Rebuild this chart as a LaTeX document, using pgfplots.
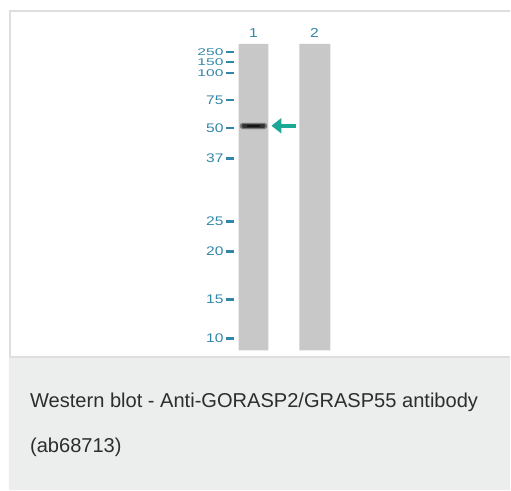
\documentclass[border=0pt]{standalone}
\usepackage{pgfplots}
\pgfplotsset{compat=1.18}
\usepackage{fontspec}
\setmainfont{Liberation Sans}
\usetikzlibrary{arrows.meta}

\definecolor{lanegray}{RGB}{200,200,200}
\definecolor{capbg}{RGB}{236,238,237}
\definecolor{frame}{RGB}{222,222,222}
\definecolor{mwblue}{RGB}{50,134,168}
\definecolor{arrowteal}{RGB}{28,168,150}
\definecolor{captext}{RGB}{45,45,45}

\pgfplotsset{
  ladder/.style={mwblue, only marks, mark=-, mark size=4pt, mark options={line width=2.5pt},
    nodes near coords, point meta=explicit symbolic},
}

\begin{document}
\begin{tikzpicture}
\begin{axis}[
    scale only axis, width=511pt, height=491pt,
    xmin=0, xmax=511, ymin=0, ymax=491,
    y dir=reverse, axis lines=none, clip=false,
  ]
  % keep the full page size
  \addplot[draw=none] coordinates {(0,0) (511,491)};

  % caption panel and frame
  \addplot[fill=capbg, draw=none] coordinates {(9,358) (511,358) (511,491) (9,491) (9,358)};
  \addplot[frame, line width=2pt] coordinates {(511,11) (10,11) (10,358) (511,358)};

  % lanes
  \addplot[fill=lanegray, draw=none] coordinates {(239,44) (269,44) (269,351) (239,351) (239,44)};
  \addplot[fill=lanegray, draw=none] coordinates {(300,44) (331,44) (331,351) (300,351) (300,44)};

  % band in lane 1 at ~52 kDa
  \addplot[black!35, line width=8pt, opacity=0.45, line cap=round] coordinates {(244,126) (264,126)};
  \addplot[black!60, line width=5.5pt, opacity=0.8, line cap=round] coordinates {(243,126) (265,126)};
  \addplot[black!80, line width=3.5pt, line cap=round] coordinates {(244,126) (264,126)};
  \addplot[black!92, line width=2pt, line cap=round] coordinates {(248,126) (260,126)};

  % arrow
  \addplot[arrowteal, line width=3.5pt, -{Triangle[length=10pt,width=15pt]}] coordinates {(297,126) (272,126)};

  % molecular weight ladder (top three squeezed together as in the blot)
  \addplot[ladder, nodes near coords style={anchor=east, xshift=-4.5pt, mwblue,
      font=\fontsize{12.5}{12.5}\selectfont, xscale=1.25, yscale=0.78, inner sep=0pt}]
    table[meta=label] {
x   y   label
230 52  250
230 62  150
230 73  100
};
  \addplot[ladder, nodes near coords style={anchor=east, xshift=-4.5pt, mwblue,
      font=\fontsize{12.5}{12.5}\selectfont, xscale=1.25, inner sep=0pt}]
    table[meta=label] {
x   y   label
230 100 75
230 128 50
230 159 37
230 222 25
230 252 20
230 300 15
230 339 10
};

  % lane labels
  \node[mwblue, font=\fontsize{13}{13}\selectfont, xscale=1.2] at (axis cs:254,33) {1};
  \node[mwblue, font=\fontsize{13}{13}\selectfont, xscale=1.2] at (axis cs:315,33) {2};

  % caption
  \node[anchor=base west, captext, font=\fontsize{20.1}{21}\selectfont, inner sep=0pt] at (axis cs:30,408) {Western blot - Anti-GORASP2/GRASP55 antibody};
  \node[anchor=base west, captext, font=\fontsize{20.1}{21}\selectfont, inner sep=0pt] at (axis cs:30,453) {(ab68713)};
\end{axis}
\end{tikzpicture}
\end{document}
